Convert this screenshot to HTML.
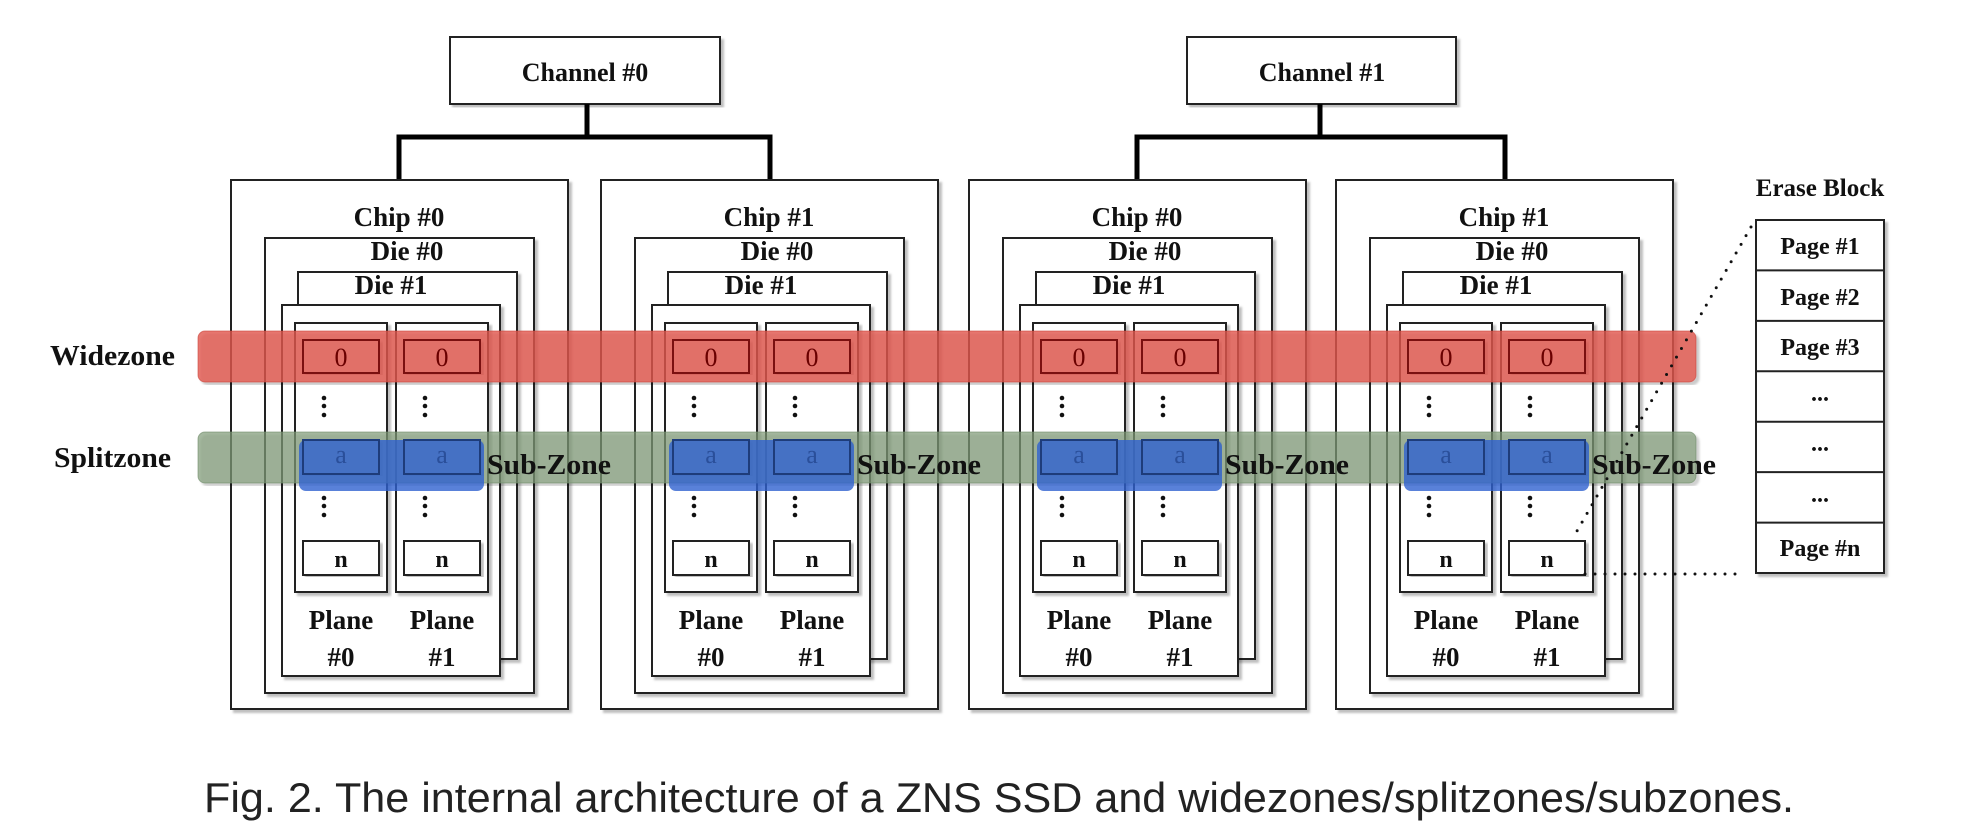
<!DOCTYPE html>
<html><head><meta charset="utf-8"><style>
html,body{margin:0;padding:0;background:#fff;}
svg{display:block;}
.s{font-family:"Liberation Serif",serif;font-weight:bold;fill:#111;}
</style></head><body>
<svg width="1962" height="832" viewBox="0 0 1962 832" xmlns="http://www.w3.org/2000/svg">
<defs>
<filter id="sh" x="-5%" y="-5%" width="110%" height="110%"><feDropShadow dx="3" dy="3" stdDeviation="1" flood-color="#000" flood-opacity="0.25"/></filter>
<g id="chip">
 <rect x="0" y="0" width="337" height="529" fill="#fff" stroke="#222" stroke-width="2" filter="url(#sh)"/>
 <rect x="34" y="58" width="269" height="455" fill="#fff" stroke="#222" stroke-width="2" filter="url(#sh)"/>
 <rect x="67" y="92" width="219" height="387" fill="#fff" stroke="#222" stroke-width="2" filter="url(#sh)"/>
 <rect x="51" y="125" width="218" height="371" fill="#fff" stroke="#222" stroke-width="2" filter="url(#sh)"/>
 <rect x="64" y="143" width="92" height="269" fill="#fff" stroke="#222" stroke-width="2" filter="url(#sh)"/>
 <rect x="165" y="143" width="92" height="269" fill="#fff" stroke="#222" stroke-width="2" filter="url(#sh)"/>
 <rect x="72" y="160" width="76" height="33" fill="#fff" stroke="#222" stroke-width="2" filter="url(#sh)"/>
 <rect x="173" y="160" width="76" height="33" fill="#fff" stroke="#222" stroke-width="2" filter="url(#sh)"/>
 <rect x="72" y="260" width="76" height="34" fill="#fff" stroke="#222" stroke-width="2" filter="url(#sh)"/>
 <rect x="173" y="260" width="76" height="34" fill="#fff" stroke="#222" stroke-width="2" filter="url(#sh)"/>
 <rect x="72" y="361" width="76" height="34" fill="#fff" stroke="#222" stroke-width="2" filter="url(#sh)"/>
 <rect x="173" y="361" width="76" height="34" fill="#fff" stroke="#222" stroke-width="2" filter="url(#sh)"/>
 <g fill="#111">
  <circle cx="93" cy="218" r="2.3"/><circle cx="93" cy="226" r="2.3"/><circle cx="93" cy="235" r="2.3"/>
  <circle cx="194" cy="218" r="2.3"/><circle cx="194" cy="226" r="2.3"/><circle cx="194" cy="235" r="2.3"/>
  <circle cx="93" cy="318" r="2.3"/><circle cx="93" cy="326" r="2.3"/><circle cx="93" cy="335" r="2.3"/>
  <circle cx="194" cy="318" r="2.3"/><circle cx="194" cy="326" r="2.3"/><circle cx="194" cy="335" r="2.3"/>
 </g>
 <text class="s" x="110" y="387" font-size="24" text-anchor="middle">n</text>
 <text class="s" x="211" y="387" font-size="24" text-anchor="middle">n</text>
 <text class="s" x="110" y="449" font-size="27" text-anchor="middle">Plane</text>
 <text class="s" x="211" y="449" font-size="27" text-anchor="middle">Plane</text>
 <text class="s" x="110" y="486" font-size="27" text-anchor="middle">#0</text>
 <text class="s" x="211" y="486" font-size="27" text-anchor="middle">#1</text>
 <text class="s" x="176" y="80" font-size="27" text-anchor="middle">Die #0</text>
 <text class="s" x="160" y="114" font-size="27" text-anchor="middle">Die #1</text>
</g>
</defs>

<rect x="450" y="37" width="270" height="67" fill="#fff" stroke="#222" stroke-width="2" filter="url(#sh)"/>
<text class="s" x="585" y="81" font-size="26" text-anchor="middle">Channel #0</text>
<rect x="1187" y="37" width="269" height="67" fill="#fff" stroke="#222" stroke-width="2" filter="url(#sh)"/>
<text class="s" x="1322" y="81" font-size="26" text-anchor="middle">Channel #1</text>
<g stroke="#000" stroke-width="5" fill="none">
 <path d="M587 104 V137 M399 181 V137 H770 V181"/>
 <path d="M1320 104 V137 M1137 181 V137 H1505 V181"/>
</g>

<g transform="translate(231,180)"><use href="#chip"/><text class="s" x="168" y="46" font-size="27" text-anchor="middle">Chip #0</text></g>
<g transform="translate(601,180)"><use href="#chip"/><text class="s" x="168" y="46" font-size="27" text-anchor="middle">Chip #1</text></g>
<g transform="translate(969,180)"><use href="#chip"/><text class="s" x="168" y="46" font-size="27" text-anchor="middle">Chip #0</text></g>
<g transform="translate(1336,180)"><use href="#chip"/><text class="s" x="168" y="46" font-size="27" text-anchor="middle">Chip #1</text></g>

<rect x="198" y="331" width="1498" height="51" rx="7" fill="#e0564c" fill-opacity="0.8" stroke="#c9443c" stroke-opacity="0.6" filter="url(#sh)"/>
<rect x="198" y="432" width="1498" height="51" rx="7" fill="#7f9a77" fill-opacity="0.7" stroke="#6e8a67" stroke-opacity="0.6" filter="url(#sh)"/>

<g font-family="Liberation Serif,serif" font-size="26" text-anchor="middle">
<g transform="translate(231,0)">
 <rect x="72" y="340" width="76" height="33" fill="none" stroke="#7a1010" stroke-width="2"/><rect x="173" y="340" width="76" height="33" fill="none" stroke="#7a1010" stroke-width="2"/>
 <text x="110" y="366" fill="#6a0000">0</text><text x="211" y="366" fill="#6a0000">0</text>
 <rect x="68" y="440" width="185" height="51" rx="7" fill="#2f62d0" fill-opacity="0.8"/>
 <text x="110" y="463" fill="#2a4f9a">a</text><text x="211" y="463" fill="#2a4f9a">a</text>
 <rect x="72" y="440" width="76" height="34" fill="none" stroke="#1e3c7a" stroke-width="2"/><rect x="173" y="440" width="76" height="34" fill="none" stroke="#1e3c7a" stroke-width="2"/>
</g>
<g transform="translate(601,0)">
 <rect x="72" y="340" width="76" height="33" fill="none" stroke="#7a1010" stroke-width="2"/><rect x="173" y="340" width="76" height="33" fill="none" stroke="#7a1010" stroke-width="2"/>
 <text x="110" y="366" fill="#6a0000">0</text><text x="211" y="366" fill="#6a0000">0</text>
 <rect x="68" y="440" width="185" height="51" rx="7" fill="#2f62d0" fill-opacity="0.8"/>
 <text x="110" y="463" fill="#2a4f9a">a</text><text x="211" y="463" fill="#2a4f9a">a</text>
 <rect x="72" y="440" width="76" height="34" fill="none" stroke="#1e3c7a" stroke-width="2"/><rect x="173" y="440" width="76" height="34" fill="none" stroke="#1e3c7a" stroke-width="2"/>
</g>
<g transform="translate(969,0)">
 <rect x="72" y="340" width="76" height="33" fill="none" stroke="#7a1010" stroke-width="2"/><rect x="173" y="340" width="76" height="33" fill="none" stroke="#7a1010" stroke-width="2"/>
 <text x="110" y="366" fill="#6a0000">0</text><text x="211" y="366" fill="#6a0000">0</text>
 <rect x="68" y="440" width="185" height="51" rx="7" fill="#2f62d0" fill-opacity="0.8"/>
 <text x="110" y="463" fill="#2a4f9a">a</text><text x="211" y="463" fill="#2a4f9a">a</text>
 <rect x="72" y="440" width="76" height="34" fill="none" stroke="#1e3c7a" stroke-width="2"/><rect x="173" y="440" width="76" height="34" fill="none" stroke="#1e3c7a" stroke-width="2"/>
</g>
<g transform="translate(1336,0)">
 <rect x="72" y="340" width="76" height="33" fill="none" stroke="#7a1010" stroke-width="2"/><rect x="173" y="340" width="76" height="33" fill="none" stroke="#7a1010" stroke-width="2"/>
 <text x="110" y="366" fill="#6a0000">0</text><text x="211" y="366" fill="#6a0000">0</text>
 <rect x="68" y="440" width="185" height="51" rx="7" fill="#2f62d0" fill-opacity="0.8"/>
 <text x="110" y="463" fill="#2a4f9a">a</text><text x="211" y="463" fill="#2a4f9a">a</text>
 <rect x="72" y="440" width="76" height="34" fill="none" stroke="#1e3c7a" stroke-width="2"/><rect x="173" y="440" width="76" height="34" fill="none" stroke="#1e3c7a" stroke-width="2"/>
</g>
</g>

<text class="s" x="487" y="474" font-size="29" textLength="124" lengthAdjust="spacingAndGlyphs">Sub-Zone</text>
<text class="s" x="857" y="474" font-size="29" textLength="124" lengthAdjust="spacingAndGlyphs">Sub-Zone</text>
<text class="s" x="1225" y="474" font-size="29" textLength="124" lengthAdjust="spacingAndGlyphs">Sub-Zone</text>
<text class="s" x="1592" y="474" font-size="29" textLength="124" lengthAdjust="spacingAndGlyphs">Sub-Zone</text>

<text class="s" x="50" y="365" font-size="29" textLength="125" lengthAdjust="spacingAndGlyphs">Widezone</text>
<text class="s" x="54" y="467" font-size="29" textLength="117" lengthAdjust="spacingAndGlyphs">Splitzone</text>

<text class="s" x="1820" y="196" font-size="25" text-anchor="middle">Erase Block</text>
<g stroke="#222" stroke-width="2" fill="#fff">
 <rect x="1756" y="220" width="128" height="353" filter="url(#sh)"/>
 <path d="M1756 270.4H1884M1756 320.9H1884M1756 371.3H1884M1756 421.7H1884M1756 472.1H1884M1756 522.6H1884" fill="none"/>
</g>
<g class="s" font-size="24" text-anchor="middle">
 <text x="1820" y="254">Page #1</text>
 <text x="1820" y="305">Page #2</text>
 <text x="1820" y="355">Page #3</text>
 <text x="1820" y="401">...</text>
 <text x="1820" y="451">...</text>
 <text x="1820" y="502">...</text>
 <text x="1820" y="556">Page #n</text>
</g>
<g stroke="#111" stroke-width="3" stroke-linecap="round" stroke-dasharray="0 10" fill="none">
 <path d="M1751 227 L1573 538"/>
 <path d="M1585 574 H1740"/>
</g>

<text x="204" y="812" font-family="Liberation Sans,sans-serif" font-size="42" fill="#222" textLength="1590" lengthAdjust="spacingAndGlyphs">Fig. 2.  The internal architecture of a ZNS SSD and widezones/splitzones/subzones.</text>
</svg>
</body></html>
